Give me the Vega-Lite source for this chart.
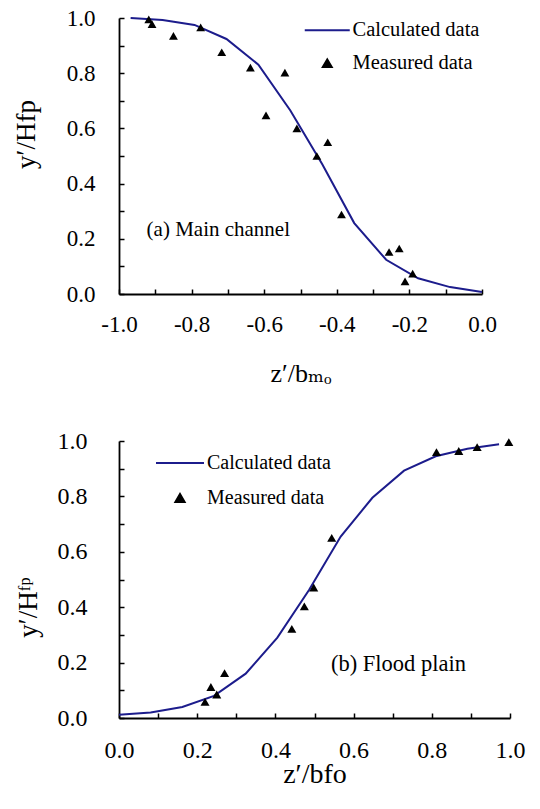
{
  "$schema": "https://vega.github.io/schema/vega-lite/v6.json",
  "padding": {"left": 12, "top": 7, "right": 5, "bottom": 5},
  "background": "white",
  "spacing": 43,
  "config": {
    "view": {"stroke": null},
    "font": "Liberation Serif, Times New Roman, DejaVu Serif, serif",
    "axis": {"grid": false, "domainColor": "black", "domainWidth": 1.8, "tickColor": "black", "tickWidth": 1.5, "tickSize": -5, "labelColor": "black", "titleColor": "black", "labelFont": "Liberation Serif, Times New Roman, DejaVu Serif, serif", "titleFont": "Liberation Serif, Times New Roman, DejaVu Serif, serif", "titleFontWeight": "normal", "labelFlush": false, "labelOverlap": false},
    "legend": {"labelFont": "Liberation Serif, Times New Roman, DejaVu Serif, serif", "labelColor": "black", "padding": 0},
    "text": {"font": "Liberation Serif, Times New Roman, DejaVu Serif, serif"}
  },
  "datasets": {
    "calcA": [
      {"z": -0.968, "y": 1.0, "series": "Calculated data"},
      {"z": -0.88, "y": 0.993, "series": "Calculated data"},
      {"z": -0.792, "y": 0.975, "series": "Calculated data"},
      {"z": -0.704, "y": 0.924, "series": "Calculated data"},
      {"z": -0.616, "y": 0.831, "series": "Calculated data"},
      {"z": -0.528, "y": 0.665, "series": "Calculated data"},
      {"z": -0.44, "y": 0.47, "series": "Calculated data"},
      {"z": -0.352, "y": 0.257, "series": "Calculated data"},
      {"z": -0.264, "y": 0.124, "series": "Calculated data"},
      {"z": -0.176, "y": 0.057, "series": "Calculated data"},
      {"z": -0.088, "y": 0.025, "series": "Calculated data"},
      {"z": 0.0, "y": 0.007, "series": "Calculated data"}
    ],
    "measA": [
      {"z": -0.918, "y": 0.995, "series": "Measured data"},
      {"z": -0.909, "y": 0.978, "series": "Measured data"},
      {"z": -0.85, "y": 0.935, "series": "Measured data"},
      {"z": -0.775, "y": 0.966, "series": "Measured data"},
      {"z": -0.717, "y": 0.876, "series": "Measured data"},
      {"z": -0.638, "y": 0.82, "series": "Measured data"},
      {"z": -0.595, "y": 0.647, "series": "Measured data"},
      {"z": -0.543, "y": 0.802, "series": "Measured data"},
      {"z": -0.51, "y": 0.6, "series": "Measured data"},
      {"z": -0.455, "y": 0.5, "series": "Measured data"},
      {"z": -0.425, "y": 0.55, "series": "Measured data"},
      {"z": -0.387, "y": 0.288, "series": "Measured data"},
      {"z": -0.256, "y": 0.152, "series": "Measured data"},
      {"z": -0.228, "y": 0.165, "series": "Measured data"},
      {"z": -0.212, "y": 0.046, "series": "Measured data"},
      {"z": -0.191, "y": 0.074, "series": "Measured data"}
    ],
    "calcB": [
      {"z": 0.0, "y": 0.012, "series": "Calculated data"},
      {"z": 0.081, "y": 0.02, "series": "Calculated data"},
      {"z": 0.162, "y": 0.04, "series": "Calculated data"},
      {"z": 0.243, "y": 0.08, "series": "Calculated data"},
      {"z": 0.324, "y": 0.16, "series": "Calculated data"},
      {"z": 0.405, "y": 0.29, "series": "Calculated data"},
      {"z": 0.486, "y": 0.462, "series": "Calculated data"},
      {"z": 0.567, "y": 0.655, "series": "Calculated data"},
      {"z": 0.648, "y": 0.795, "series": "Calculated data"},
      {"z": 0.729, "y": 0.893, "series": "Calculated data"},
      {"z": 0.81, "y": 0.945, "series": "Calculated data"},
      {"z": 0.891, "y": 0.972, "series": "Calculated data"},
      {"z": 0.972, "y": 0.988, "series": "Calculated data"}
    ],
    "measB": [
      {"z": 0.22, "y": 0.058, "series": "Measured data"},
      {"z": 0.235, "y": 0.112, "series": "Measured data"},
      {"z": 0.25, "y": 0.085, "series": "Measured data"},
      {"z": 0.27, "y": 0.162, "series": "Measured data"},
      {"z": 0.442, "y": 0.322, "series": "Measured data"},
      {"z": 0.474, "y": 0.403, "series": "Measured data"},
      {"z": 0.498, "y": 0.471, "series": "Measured data"},
      {"z": 0.544, "y": 0.65, "series": "Measured data"},
      {"z": 0.812, "y": 0.96, "series": "Measured data"},
      {"z": 0.869, "y": 0.964, "series": "Measured data"},
      {"z": 0.916, "y": 0.978, "series": "Measured data"},
      {"z": 0.997, "y": 0.996, "series": "Measured data"}
    ],
    "labelA": [{"label": "(a) Main channel"}],
    "labelB": [{"label": "(b) Flood plain"}]
  },
  "vconcat": [
    {
      "width": 363,
      "height": 276,
      "encoding": {
        "x": {"type": "quantitative", "scale": {"domain": [-1, 0], "nice": false, "zero": false},
          "axis": {"title": "z′/bₘₒ", "titleFontSize": 26, "titlePadding": 24, "labelFontSize": 23, "labelPadding": 24,
            "values": [-1, -0.9, -0.8, -0.7, -0.6, -0.5, -0.4, -0.3, -0.2, -0.1, 0],
            "labelExpr": "abs(round(datum.value*10)) % 2 == 0 ? replace(format(datum.value, '.1f'), '−', '-') : ''"}},
        "y": {"type": "quantitative", "scale": {"domain": [0, 1], "nice": false},
          "axis": {"title": "y′/Hfp", "titleFontSize": 27, "titlePadding": 26, "titleY": 116, "labelFontSize": 23, "labelPadding": 29,
            "values": [0, 0.1, 0.2, 0.3, 0.4, 0.5, 0.6, 0.7, 0.8, 0.9, 1],
            "labelExpr": "round(datum.value*10) % 2 == 0 ? format(datum.value, '.1f') : ''"}}
      },
      "layer": [
        {
          "data": {"name": "calcA"},
          "mark": {"type": "line", "strokeWidth": 2},
          "encoding": {
            "x": {"field": "z", "type": "quantitative"},
            "y": {"field": "y", "type": "quantitative"},
            "color": {"field": "series", "type": "nominal",
              "scale": {"domain": ["Calculated data", "Measured data"], "range": ["#1c1c8c", "#000000"]},
              "legend": {"title": null, "orient": "top-right", "offset": 2, "labelFontSize": 20.5, "labelOffset": 15, "rowPadding": 12,
                "encode": {"symbols": {"update": {
                  "size": {"signal": "datum.value === 'Calculated data' ? 2025 : 80"},
                  "stroke": {"signal": "datum.value === 'Calculated data' ? '#1c1c8c' : 'transparent'"},
                  "fill": {"signal": "datum.value === 'Calculated data' ? 'transparent' : 'black'"},
                  "strokeWidth": {"value": 2}, "opacity": {"value": 1}}}}}}
          }
        },
        {
          "data": {"name": "measA"},
          "mark": {"type": "point", "filled": true, "size": 78, "opacity": 1},
          "encoding": {
            "x": {"field": "z", "type": "quantitative"},
            "y": {"field": "y", "type": "quantitative"},
            "color": {"field": "series", "type": "nominal"},
            "shape": {"field": "series", "type": "nominal",
              "scale": {"domain": ["Calculated data", "Measured data"], "range": ["stroke", "triangle-up"]},
              "legend": {"title": null}}
          }
        },
        {
          "data": {"name": "labelA"},
          "mark": {"type": "text", "align": "left", "baseline": "middle", "fontSize": 21, "color": "black"},
          "encoding": {"x": {"datum": -0.924}, "y": {"datum": 0.233}, "text": {"field": "label"}}
        }
      ]
    },
    {
      "width": 391,
      "height": 277,
      "encoding": {
        "x": {"type": "quantitative", "scale": {"domain": [0, 1], "nice": false, "zero": false},
          "axis": {"title": "z′/bfo", "titleFontSize": 28, "titlePadding": -2, "labelFontSize": 24, "labelPadding": 25,
            "values": [0, 0.1, 0.2, 0.3, 0.4, 0.5, 0.6, 0.7, 0.8, 0.9, 1],
            "labelExpr": "round(datum.value*10) % 2 == 0 ? format(datum.value, '.1f') : ''"}},
        "y": {"type": "quantitative", "scale": {"domain": [0, 1], "nice": false},
          "axis": {"title": "y′/Hᶠᵖ", "titleFontSize": 27, "titlePadding": 15, "titleY": 166, "labelFontSize": 24, "labelPadding": 37,
            "values": [0, 0.1, 0.2, 0.3, 0.4, 0.5, 0.6, 0.7, 0.8, 0.9, 1],
            "labelExpr": "round(datum.value*10) % 2 == 0 ? format(datum.value, '.1f') : ''"}}
      },
      "layer": [
        {
          "data": {"name": "calcB"},
          "mark": {"type": "line", "strokeWidth": 2},
          "encoding": {
            "x": {"field": "z", "type": "quantitative"},
            "y": {"field": "y", "type": "quantitative"},
            "color": {"field": "series", "type": "nominal",
              "scale": {"domain": ["Calculated data", "Measured data"], "range": ["#1c1c8c", "#000000"]},
              "legend": {"title": null, "orient": "none", "legendX": 51, "legendY": 12, "labelFontSize": 20, "labelOffset": 17, "rowPadding": 15,
                "encode": {"symbols": {"update": {
                  "size": {"signal": "datum.value === 'Calculated data' ? 2304 : 85"},
                  "stroke": {"signal": "datum.value === 'Calculated data' ? '#1c1c8c' : 'transparent'"},
                  "fill": {"signal": "datum.value === 'Calculated data' ? 'transparent' : 'black'"},
                  "strokeWidth": {"value": 2}, "opacity": {"value": 1}}}}}}
          }
        },
        {
          "data": {"name": "measB"},
          "mark": {"type": "point", "filled": true, "size": 82, "opacity": 1},
          "encoding": {
            "x": {"field": "z", "type": "quantitative"},
            "y": {"field": "y", "type": "quantitative"},
            "color": {"field": "series", "type": "nominal"},
            "shape": {"field": "series", "type": "nominal",
              "scale": {"domain": ["Calculated data", "Measured data"], "range": ["stroke", "triangle-up"]},
              "legend": {"title": null}}
          }
        },
        {
          "data": {"name": "labelB"},
          "mark": {"type": "text", "align": "left", "baseline": "middle", "fontSize": 22.5, "color": "black"},
          "encoding": {"x": {"datum": 0.542}, "y": {"datum": 0.194}, "text": {"field": "label"}}
        }
      ]
    }
  ],
  "resolve": {"scale": {"x": "independent", "y": "independent", "color": "independent", "shape": "independent"}, "legend": {"color": "independent", "shape": "independent"}}
}
